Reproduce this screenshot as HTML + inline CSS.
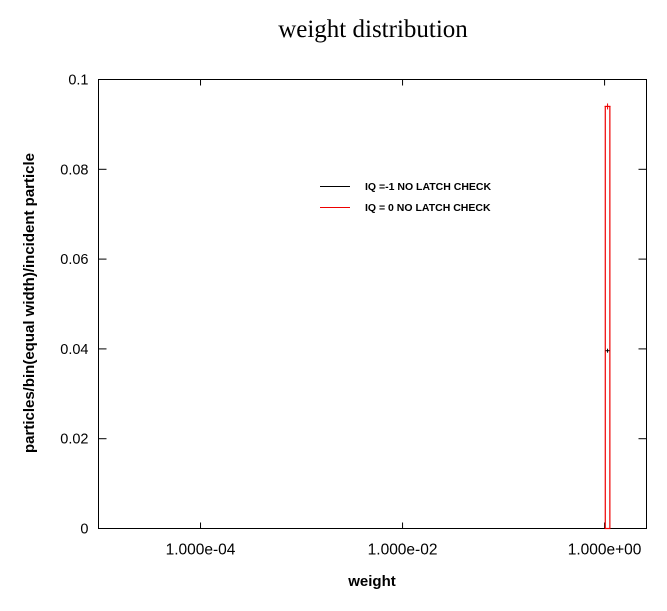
<!DOCTYPE html>
<html><head><meta charset="utf-8"><style>
body{margin:0;background:#fff;}
svg{display:block;font-family:"Liberation Sans",sans-serif;}
</style></head><body>
<svg id="chart" width="667" height="611" viewBox="0 0 667 611" xmlns="http://www.w3.org/2000/svg">
<rect width="667" height="611" fill="#fff"/>
<text x="373" y="37" text-anchor="middle" font-family="Liberation Serif, serif" font-size="25">weight distribution</text>
<g id="axes"></g>
<g id="marks"></g>
<g>
<line x1="320" y1="186.5" x2="350" y2="186.5" stroke="#000" stroke-width="1"/>
<text x="365" y="190" font-size="10.5" font-weight="bold">IQ =-1 NO LATCH CHECK</text>
<line x1="320" y1="207.5" x2="350" y2="207.5" stroke="#e00" stroke-width="1"/>
<text x="365" y="211" font-size="10.5" font-weight="bold">IQ = 0 NO LATCH CHECK</text>
</g>
<text x="372" y="586" text-anchor="middle" font-size="15" font-weight="bold">weight</text>
<text transform="translate(34,303) rotate(-90)" text-anchor="middle" font-size="15" font-weight="bold">particles/bin(equal width)/incident particle</text>
</svg>
<script>
const xTickVals=[1e-4,1e-2,1];
const xTickLabels=["1.000e-04","1.000e-02","1.000e+00"];
const yTickVals=[0,0.02,0.04,0.06,0.08,0.1];
const yTickLabels=["0","0.02","0.04","0.06","0.08","0.1"];
const redBinLo=[1.016];
const redBinHi=[1.128];
const redValues=[0.094];
const blackX=[1.07];
const blackValues=[0.0396];

const L=98.5,R=646.5,T=79.5,B=528.5;
const LOGMIN=-5.01,LOGMAX=0.415;
function xs(v){return L+(Math.log10(v)-LOGMIN)/(LOGMAX-LOGMIN)*(R-L);}
function ys(v){return B-v/0.1*(B-T);}
const NS="http://www.w3.org/2000/svg";
function mk(tag,attrs,parent){const e=document.createElementNS(NS,tag);for(const k in attrs)e.setAttribute(k,attrs[k]);parent.appendChild(e);return e;}
const ax=document.getElementById('axes');
const frame=mk('rect',{x:L,y:T,width:R-L,height:B-T,fill:'none',stroke:'#000','stroke-width':1},ax);


yTickVals.forEach((v,i)=>{
  const y=ys(v);
  mk('line',{x1:L,y1:y,x2:L+8,y2:y,stroke:'#000'},ax);
  mk('line',{x1:R,y1:y,x2:R-8,y2:y,stroke:'#000'},ax);
  const t=mk('text',{x:L-10,y:y+5,'text-anchor':'end','font-size':14.5},ax);
  t.textContent=yTickLabels[i];
  
  
});
xTickVals.forEach((v,i)=>{
  const x=xs(v);
  mk('line',{x1:x,y1:B,x2:x,y2:B-6,stroke:'#000'},ax);
  mk('line',{x1:x,y1:T,x2:x,y2:T+6,stroke:'#000'},ax);
  const t=mk('text',{x:x,y:B+26,'text-anchor':'middle','font-size':15.5},ax);
  t.textContent=xTickLabels[i];
  
  
});
const mg=document.getElementById('marks');
redValues.forEach((v,i)=>{
  const x0=xs(redBinLo[i]),x1=xs(redBinHi[i]),y=ys(v);
  const r=mk('rect',{x:x0,y:y,width:x1-x0,height:B-y,fill:'none',stroke:'#e00','stroke-width':1.2},mg);
  
  
  const cx=(x0+x1)/2;
  mk('line',{x1:cx-3,y1:y,x2:cx+3,y2:y,stroke:'#e00'},mg);
  mk('line',{x1:cx,y1:y-3,x2:cx,y2:y+3,stroke:'#e00'},mg);
});
blackValues.forEach((v,i)=>{
  const x=xs(blackX[i]),y=ys(v);
  const g=mk('g',{},mg);
  
  
  mk('line',{x1:x-2,y1:y,x2:x+2,y2:y,stroke:'#000'},g);
  mk('line',{x1:x,y1:y-2,x2:x,y2:y+2,stroke:'#000'},g);
});
</script>
</body></html>
